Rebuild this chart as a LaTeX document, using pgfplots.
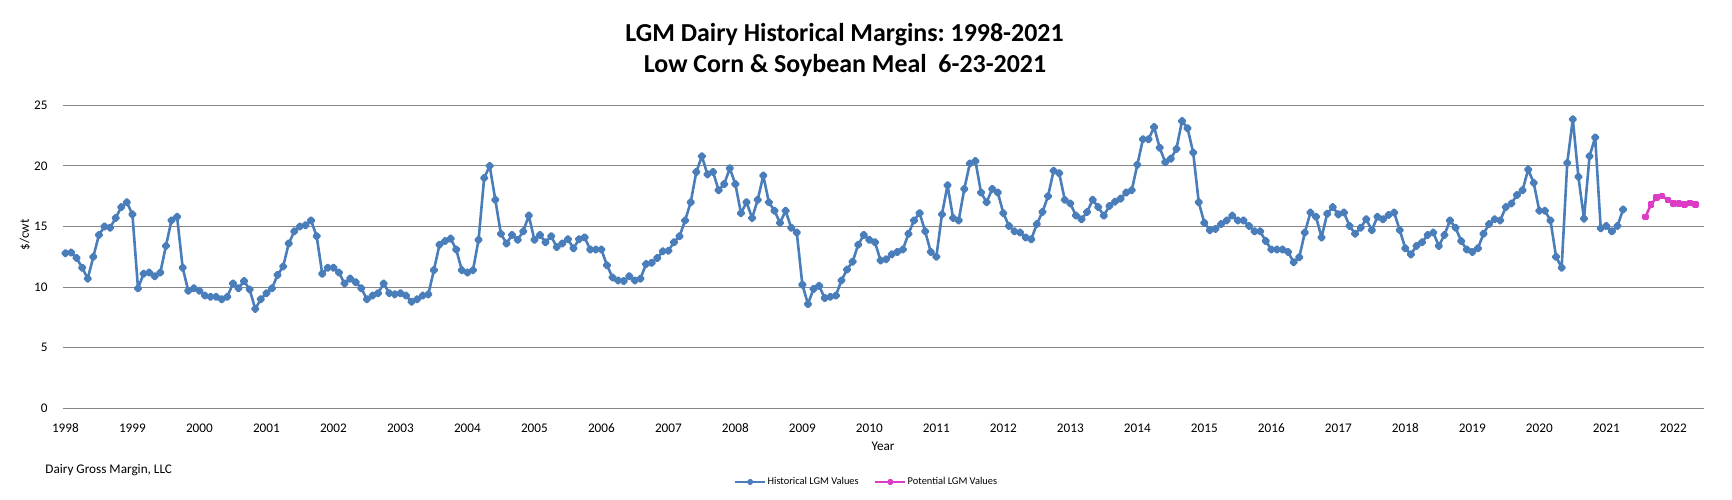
\documentclass[border=0pt]{standalone}
\usepackage{pgfplots}
\usepackage{pgfplotstable}
\pgfplotsset{compat=1.18}
\usepackage{fontspec}
\setmainfont{Carlito}
\frenchspacing
\definecolor{histblue}{RGB}{74,126,187}
\definecolor{potpink}{RGB}{221,60,196}
\definecolor{gridgray}{RGB}{134,134,134}

\pgfplotstableread{
m v
0 12.8
1 12.85
2 12.4
3 11.6
4 10.7
5 12.5
6 14.3
7 15.0
8 14.9
9 15.7
10 16.6
11 17.0
12 16.0
13 9.9
14 11.1
15 11.2
16 10.9
17 11.2
18 13.4
19 15.5
20 15.8
21 11.6
22 9.7
23 9.9
24 9.7
25 9.3
26 9.2
27 9.2
28 9.0
29 9.2
30 10.3
31 9.9
32 10.5
33 9.8
34 8.2
35 9.0
36 9.5
37 9.9
38 11.0
39 11.7
40 13.6
41 14.6
42 15.0
43 15.1
44 15.5
45 14.2
46 11.1
47 11.6
48 11.6
49 11.2
50 10.3
51 10.7
52 10.4
53 9.9
54 9.0
55 9.3
56 9.5
57 10.3
58 9.5
59 9.4
60 9.5
61 9.3
62 8.8
63 9.0
64 9.3
65 9.4
66 11.4
67 13.5
68 13.8
69 14.0
70 13.1
71 11.4
72 11.2
73 11.4
74 13.9
75 19.0
76 20.0
77 17.2
78 14.4
79 13.6
80 14.3
81 13.9
82 14.6
83 15.9
84 13.9
85 14.3
86 13.7
87 14.2
88 13.3
89 13.6
90 13.95
91 13.2
92 13.95
93 14.1
94 13.1
95 13.1
96 13.1
97 11.8
98 10.8
99 10.55
100 10.5
101 10.9
102 10.55
103 10.7
104 11.9
105 12.0
106 12.4
107 12.95
108 13.0
109 13.7
110 14.2
111 15.5
112 17.0
113 19.5
114 20.8
115 19.3
116 19.5
117 18.0
118 18.5
119 19.8
120 18.5
121 16.1
122 17.0
123 15.7
124 17.2
125 19.2
126 17.0
127 16.3
128 15.3
129 16.3
130 14.9
131 14.5
132 10.2
133 8.6
134 9.85
135 10.1
136 9.1
137 9.2
138 9.3
139 10.55
140 11.45
141 12.1
142 13.5
143 14.3
144 13.9
145 13.7
146 12.2
147 12.3
148 12.7
149 12.9
150 13.1
151 14.4
152 15.5
153 16.1
154 14.6
155 12.9
156 12.5
157 16.0
158 18.4
159 15.7
160 15.5
161 18.1
162 20.2
163 20.4
164 17.8
165 17.0
166 18.1
167 17.8
168 16.1
169 15.05
170 14.6
171 14.5
172 14.1
173 13.95
174 15.2
175 16.2
176 17.5
177 19.6
178 19.4
179 17.2
180 16.9
181 15.9
182 15.6
183 16.2
184 17.2
185 16.6
186 15.9
187 16.7
188 17.05
189 17.3
190 17.8
191 18.0
192 20.1
193 22.2
194 22.2
195 23.2
196 21.5
197 20.3
198 20.6
199 21.4
200 23.7
201 23.1
202 21.1
203 17.0
204 15.3
205 14.7
206 14.8
207 15.2
208 15.5
209 15.9
210 15.5
211 15.5
212 15.05
213 14.6
214 14.6
215 13.8
216 13.1
217 13.1
218 13.1
219 12.9
220 12.05
221 12.46
222 14.5
223 16.15
224 15.8
225 14.1
226 16.05
227 16.6
228 16.0
229 16.15
230 15.05
231 14.4
232 14.9
233 15.6
234 14.7
235 15.8
236 15.6
237 15.95
238 16.15
239 14.7
240 13.2
241 12.7
242 13.4
243 13.7
244 14.3
245 14.5
246 13.4
247 14.3
248 15.5
249 14.9
250 13.8
251 13.1
252 12.9
253 13.2
254 14.4
255 15.2
256 15.6
257 15.5
258 16.6
259 16.9
260 17.6
261 18.0
262 19.7
263 18.6
264 16.3
265 16.3
266 15.5
267 12.5
268 11.6
269 20.25
270 23.85
271 19.1
272 15.65
273 20.8
274 22.35
275 14.85
276 15.05
277 14.6
278 15.05
279 16.4
}\histtable

\pgfplotstableread{
m v
283 15.8
284 16.8
285 17.4
286 17.5
287 17.2
288 16.9
289 16.9
290 16.8
291 16.95
292 16.8
}\pottable

\begin{document}
\begin{tikzpicture}
\path[use as bounding box] (0,0) rectangle (866bp,250bp);
\begin{axis}[
  at={(31.65bp,45.85bp)}, anchor=south west, scale only axis,
  width=820.35bp, height=151.5bp,
  xmin=-0.38, xmax=293.5, ymin=0, ymax=25,
  xtick={0,12,24,36,48,60,72,84,96,108,120,132,144,156,168,180,192,204,216,228,240,252,264,276,288},
  xticklabels={1998,1999,2000,2001,2002,2003,2004,2005,2006,2007,2008,2009,2010,2011,2012,2013,2014,2015,2016,2017,2018,2019,2020,2021,2022},
  ytick={0,5,10,15,20,25},
  ymajorgrids, major grid style={gridgray, line width=0.55bp},
  axis line style={draw=none}, major tick length=0pt,
  tick label style={font=\fontsize{6.6bp}{8bp}\selectfont, text=black},
  /pgf/number format/assume math mode=true,
  xticklabel style={yshift=-4.3bp},
  yticklabel style={xshift=-4.4bp},
  clip=false,
  legend columns=2,
  legend style={at={(0.4893,-0.243)}, anchor=center, draw=none, fill=none,
    font=\fontsize{5.2bp}{6bp}\selectfont,
    nodes={inner sep=0.6bp},
    /tikz/every even column/.append style={column sep=7bp}},
  legend image code/.code={\draw[mark repeat=2,mark phase=2,#1,mark size=0.7bp] plot coordinates {(0bp,0bp)(7.5bp,0bp)(15bp,0bp)};},
]
\addplot[histblue, line width=1.3bp, line join=round, mark=square*, mark size=1.05bp, mark options={rotate=45, solid, fill=histblue}] table[x=m, y=v] {\histtable};
\addlegendentry{Historical LGM Values}
\addplot[potpink, line width=1.3bp, line join=round, mark=square*, mark size=0.95bp, mark options={solid, fill=potpink}] table[x=m, y=v] {\pottable};
\addlegendentry{Potential LGM Values}
\end{axis}
\node[anchor=base, font=\bfseries\fontsize{12.95bp}{15bp}\selectfont] at (422.25bp,229.15bp) {LGM Dairy Historical Margins: 1998-2021};
\node[anchor=base, font=\bfseries\fontsize{12.95bp}{15bp}\selectfont] at (422.5bp,213.5bp) {Low Corn \& Soybean Meal\ \ 6-23-2021};
\node[rotate=90, font=\fontsize{6.6bp}{8bp}\selectfont] at (12.5bp,132.5bp) {\$/cwt};
\node[anchor=base, font=\fontsize{6.6bp}{8bp}\selectfont] at (441.5bp,25bp) {Year};
\node[anchor=base west, inner sep=0pt, font=\fontsize{6.6bp}{8bp}\selectfont] at (22.5bp,13.35bp) {Dairy Gross Margin, LLC};
\end{tikzpicture}
\end{document}
